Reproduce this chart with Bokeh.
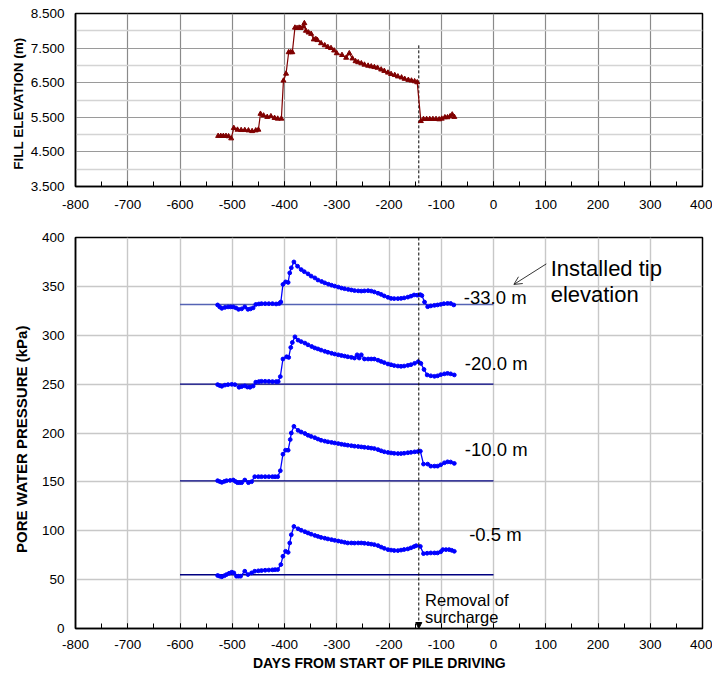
from bokeh.plotting import figure
from bokeh.layouts import column
from bokeh.models import (Range1d, SingleIntervalTicker, FixedTicker, PrintfTickFormatter,
                          Arrow, NormalHead, OpenHead, Label)
from bokeh.embed import file_html
from bokeh.resources import INLINE

FONT = "Liberation Sans"

# ---------------- data ----------------
fill_days = [-527, -522, -517, -512, -507, -502, -497, -490, -483, -476, -469, -462, -455, -450,
             -446, -440, -433, -426, -419, -413, -406, -402, -397, -392, -388, -385, -380, -376,
             -372, -369, -364, -362, -359, -354, -349, -344, -340, -337, -330, -323, -317, -311,
             -305, -300, -290, -282, -276, -270, -264, -259, -253, -247, -240, -234, -228, -222,
             -215, -209, -202, -196, -189, -183, -176, -170, -163, -157, -151, -146, -139, -134,
             -128, -122, -116, -110, -104, -99, -93, -88, -83, -79, -75]
fill_elev = [4.96, 4.96, 4.96, 4.96, 4.95, 4.89, 5.19, 5.14, 5.13, 5.13, 5.12, 5.10, 5.12, 5.14,
             5.60, 5.55, 5.51, 5.53, 5.48, 5.46, 5.46, 6.56, 6.76, 7.38, 7.38, 7.38, 8.09, 8.08,
             8.09, 8.08, 8.12, 8.22, 8.00, 7.95, 7.91, 7.75, 7.76, 7.73, 7.64, 7.58, 7.53, 7.50,
             7.43, 7.35, 7.30, 7.22, 7.35, 7.20, 7.12, 7.09, 7.06, 7.02, 6.99, 6.97, 6.95, 6.93,
             6.88, 6.84, 6.79, 6.75, 6.72, 6.68, 6.65, 6.61, 6.58, 6.56, 6.54, 6.51, 5.39, 5.45,
             5.45, 5.45, 5.45, 5.45, 5.44, 5.46, 5.50, 5.50, 5.53, 5.58, 5.51]

p33_days = [-528, -524, -520, -514, -508, -503, -498, -493, -488, -482, -476, -470, -465, -460,
            -455, -449, -444, -437, -430, -423, -416, -410, -407, -403, -398, -393, -390, -387,
            -382, -375, -368, -362, -355, -349, -342, -336, -329, -323, -316, -310, -304, -297,
            -291, -285, -278, -272, -266, -259, -253, -247, -240, -234, -228, -221, -215, -209,
            -202, -196, -190, -183, -177, -171, -164, -158, -152, -146, -140, -137, -132, -126,
            -120, -113, -107, -101, -95, -88, -82, -76]
p33_kpa = [331, 329, 327.5, 328.5, 329, 329, 329, 328, 326.5, 327, 329, 326.5, 327, 328,
           331.5, 332, 332.3, 332.3, 332.3, 332.3, 332, 332.5, 334, 352, 354.6, 354, 363.8, 369,
           375, 370.6, 367.2, 365, 362.8, 360.5, 358.7, 356.5, 355, 353.6, 352.2, 351.2, 350.3, 349.3,
           348.3, 347.6, 346.9, 346.3, 345.7, 345.4, 345.2, 345.4, 345.6, 345.2, 344.3, 343, 341.8, 340.2,
           338.8, 337.7, 337.5, 337.5, 337.7, 338.2, 339, 340, 341.2, 341, 341.5, 340.6, 334, 329.2,
           330, 330.6, 331, 331.6, 332.3, 332.6, 332.5, 331]

p20_days = [-528, -524, -520, -514, -508, -501, -495, -487, -482, -476, -471, -466, -460, -455,
            -449, -444, -437, -430, -423, -416, -412, -408, -403, -396, -392, -388, -385, -380,
            -374, -368, -361, -355, -348, -342, -336, -330, -323, -317, -310, -304, -297, -291,
            -285, -279, -272, -266, -261, -257, -253, -247, -240, -234, -228, -221, -215, -209,
            -202, -196, -190, -183, -177, -171, -164, -158, -151, -144, -139, -133, -127, -120,
            -113, -107, -101, -94, -88, -82, -75]
p20_kpa = [249.5, 248.5, 247.8, 249, 249.5, 249.8, 249.5, 246.8, 247.5, 248.2, 247, 246.8, 248, 252,
           252.6, 252.9, 252.9, 252.8, 252.6, 252.6, 252.6, 257.7, 275.7, 278, 277.3, 287.5, 292.6, 298.4,
           295, 293.5, 292, 290.2, 288.5, 287, 286, 284.8, 283.6, 282.6, 281.6, 280.8, 280, 279.3,
           278.7, 278, 277.4, 276.7, 280, 276.7, 280, 275.7, 275.7, 275.7, 275.7, 274.5, 273.2, 272,
           270.6, 269.8, 269, 268.5, 268.2, 268.5, 269.2, 269.9, 271.3, 273, 271.2, 265, 259.4, 258.5,
           258, 258.5, 259.7, 260.5, 261, 260.5, 259.4]

p10_days = [-528, -524, -520, -515, -511, -504, -498, -494, -490, -486, -482, -476, -469, -463,
            -457, -450, -444, -437, -430, -423, -418, -413, -408, -403, -398, -393, -389, -387,
            -382, -374, -368, -361, -355, -349, -342, -336, -330, -323, -317, -310, -304, -297,
            -291, -285, -279, -272, -266, -259, -253, -247, -240, -234, -228, -221, -215, -209,
            -202, -196, -190, -183, -177, -171, -164, -158, -151, -145, -140, -134, -126, -120,
            -113, -107, -101, -94, -88, -82, -75]
p10_kpa = [151.2, 150.3, 149.5, 150.5, 151.2, 151.5, 151.9, 150.5, 149.2, 149.2, 149.2, 151.9, 149.2, 150.2,
           155.3, 155.3, 155.3, 155.3, 155.3, 155.3, 155.3, 155.3, 161.4, 178.3, 182.4, 182.4, 193.3, 200,
           206.8, 202.7, 201, 199.5, 197.7, 196.5, 195.2, 193.8, 192.6, 191.7, 191, 190.4, 189.8, 189.2,
           188.5, 188, 187.5, 187, 186.5, 186.2, 185.8, 185.4, 185, 184.5, 184.1, 183, 181.8, 180.8,
           180.1, 179.6, 179.2, 179, 179, 179.3, 179.8, 180.2, 180.7, 181, 181.4, 168.2, 168.2, 166.1,
           166.1, 166.1, 167.5, 169.5, 170.5, 170.3, 168.9]

p05_days = [-528, -524, -520, -515, -511, -506, -501, -497, -492, -488, -484, -476, -470, -463,
            -457, -450, -444, -437, -430, -423, -418, -413, -407, -403, -398, -393, -390, -387,
            -382, -374, -368, -361, -355, -349, -342, -336, -330, -323, -317, -310, -304, -297,
            -291, -285, -279, -272, -266, -259, -253, -247, -240, -234, -228, -221, -215, -209,
            -202, -196, -190, -183, -177, -171, -164, -158, -152, -148, -140, -134, -127, -120,
            -113, -107, -101, -97, -91, -85, -80, -75]
p05_kpa = [54.2, 53.5, 52.9, 54, 55.2, 56.5, 57.6, 56.9, 53.5, 53.5, 53.5, 58.6, 55.2, 56.9,
           58.6, 59, 59.3, 59.6, 59.8, 60, 60.2, 60.3, 65.4, 73.9, 79, 77.9, 87.5, 95.9,
           104.4, 102, 100.5, 99, 97.7, 96.5, 95.2, 94.2, 93.2, 92.4, 91.6, 90.9, 90.2, 89.5,
           88.8, 88.2, 87.5, 87.5, 87.4, 87.5, 87.5, 87.2, 86.8, 86.3, 85.8, 84.8, 83.3, 82,
           80.7, 80.2, 79.8, 79.7, 80.2, 80.8, 81.4, 82.5, 83.8, 84.7, 84, 76.6, 77, 77.3,
           77.3, 77.3, 78.5, 80.7, 80.7, 80.7, 80, 79]

# installed tip (hydrostatic reference) pressures, drawn from day -600 to day 0
ref_days = [-600, 0]
ref_kpa = [331.5, 250, 151, 55]
depth_labels = ["-33.0 m", "-20.0 m", "-10.0 m", "-0.5 m"]

removal_day = -143          # removal of surcharge
removal_fill_top = 7.58     # top of the dashed marker in the fill chart

x_ticks_interval = 100
fill_major_ticks = [3.5, 4.5, 5.5, 6.5, 7.5, 8.5]
fill_minor_ticks = [4.0, 5.0, 6.0, 7.0, 8.0]


def style_axes(p, xfs="13.5px"):
    for ax in (p.xaxis[0], p.yaxis[0]):
        ax.axis_line_color = "black"
        ax.axis_line_width = 1.5
        ax.major_label_text_font = FONT
        ax.major_label_text_font_size = xfs
        ax.major_label_text_color = "black"
        ax.axis_label_text_font = FONT
        ax.axis_label_text_font_style = "bold"
        ax.axis_label_text_color = "black"
        ax.major_tick_line_color = "black"
        ax.minor_tick_line_color = "black"
        ax.major_tick_out = 0
        ax.minor_tick_out = 0
    p.xaxis.major_tick_in = 5
    p.xaxis.minor_tick_in = 5
    p.yaxis.major_tick_in = 0
    p.yaxis.minor_tick_in = 0
    p.xaxis.formatter = PrintfTickFormatter(format="%d")
    p.outline_line_color = "black"
    p.outline_line_width = 1.5
    p.outline_line_alpha = 1
    p.background_fill_color = "white"
    p.border_fill_color = "white"


# ---------------- upper chart: fill elevation ----------------
p1 = figure(width=712, height=216, output_backend="svg", toolbar_location=None,
            x_range=Range1d(-800, 400), y_range=Range1d(3.5, 8.5),
            min_border_left=75, min_border_right=10, min_border_top=13, min_border_bottom=30)
style_axes(p1)
p1.xaxis.ticker = SingleIntervalTicker(interval=x_ticks_interval, num_minor_ticks=2)
p1.yaxis.ticker = FixedTicker(ticks=fill_major_ticks, minor_ticks=fill_minor_ticks)
p1.yaxis.formatter = PrintfTickFormatter(format="%.3f")
p1.xaxis.major_label_standoff = 13
p1.yaxis.major_label_standoff = 11
p1.yaxis.axis_label = "FILL  ELEVATION  (m)"
p1.yaxis.axis_label_text_font_size = "13.5px"
p1.yaxis.axis_label_standoff = 2
p1.xgrid.grid_line_color = "#8a8a8a"
p1.xgrid.grid_line_width = 1.2
p1.ygrid.grid_line_color = "#9a9a9a"
p1.ygrid.grid_line_width = 1.2
p1.ygrid.minor_grid_line_color = "#d4d4d4"
p1.ygrid.minor_grid_line_width = 1.6

p1.segment(x0=[removal_day], y0=[removal_fill_top], x1=[removal_day], y1=[p1.y_range.start],
           line_color="black", line_dash="3 2", line_width=1)
p1.line(fill_days, fill_elev, line_color="#800000", line_width=1.2)
p1.scatter(fill_days, fill_elev, marker="triangle", size=5, fill_color="#800000",
           line_color="#800000")

# ---------------- lower chart: pore water pressure ----------------
p2 = figure(width=712, height=457, output_backend="svg", toolbar_location=None,
            x_range=Range1d(-800, 400), y_range=Range1d(0, 400),
            min_border_left=73, min_border_right=9, min_border_top=21, min_border_bottom=43)
style_axes(p2)
p2.xaxis.ticker = SingleIntervalTicker(interval=x_ticks_interval, num_minor_ticks=2)
p2.yaxis.ticker = SingleIntervalTicker(interval=50, num_minor_ticks=0)
p2.xaxis.major_label_standoff = 11
p2.yaxis.major_label_standoff = 11
p2.xaxis.axis_label = "DAYS  FROM  START  OF  PILE  DRIVING"
p2.xaxis.axis_label_text_font_size = "14px"
p2.xaxis.axis_label_standoff = 3
p2.yaxis.axis_label = "PORE  WATER  PRESSURE  (kPa)"
p2.yaxis.axis_label_text_font_size = "15px"
p2.yaxis.axis_label_standoff = 9
for g in (p2.xgrid, p2.ygrid):
    g.grid_line_color = "#c8c8c8"
    g.grid_line_width = 1.4

ref_colors = ["#5563b4", "#000080", "#000080", "#000080"]
for rv, rc in zip(ref_kpa, ref_colors):
    p2.line(ref_days, [rv, rv], line_color=rc, line_width=1.4)

for d, v in ((p33_days, p33_kpa), (p20_days, p20_kpa), (p10_days, p10_kpa), (p05_days, p05_kpa)):
    p2.line(d, v, line_color="#0000ff", line_width=1.3)
    p2.scatter(d, v, marker="circle", size=3.8, fill_color="#0000ff", line_color="#0000ff")

p2.add_layout(Arrow(end=NormalHead(size=6, fill_color="black", line_color="black", line_width=1),
                    x_start=removal_day, y_start=p2.y_range.end, x_end=removal_day, y_end=0,
                    line_color="black", line_dash="3 2", line_width=1))

label_pos = [(-56.7, 338.4), (-54.8, 270.6), (-54.8, 183.4), (-46.6, 96.6)]
for txt, (lx, ly) in zip(depth_labels, label_pos):
    p2.add_layout(Label(x=lx, y=ly, text=txt, text_font=FONT, text_font_size="18.5px",
                        text_baseline="alphabetic", text_color="black"))

p2.add_layout(Label(x=109.4, y=368.3, text="Installed tip", text_font=FONT, text_font_size="22px",
                    text_baseline="alphabetic", text_color="black"))
p2.add_layout(Label(x=109.4, y=341.8, text="elevation", text_font=FONT, text_font_size="22px",
                    text_baseline="alphabetic", text_color="black"))
p2.add_layout(Arrow(end=OpenHead(size=8, line_width=0.8, line_color="black"),
                    x_start=101, y_start=373, x_end=39, y_end=352,
                    line_color="black", line_width=0.8))

p2.add_layout(Label(x=-131, y=28.8, text="Removal of", text_font=FONT, text_font_size="16.5px",
                    text_baseline="alphabetic", text_color="black"))
p2.add_layout(Label(x=-131, y=11.5, text="surcharge", text_font=FONT, text_font_size="16.5px",
                    text_baseline="alphabetic", text_color="black"))

layout = column(p1, p2)
open("out.html", "w").write(file_html(layout, INLINE))
